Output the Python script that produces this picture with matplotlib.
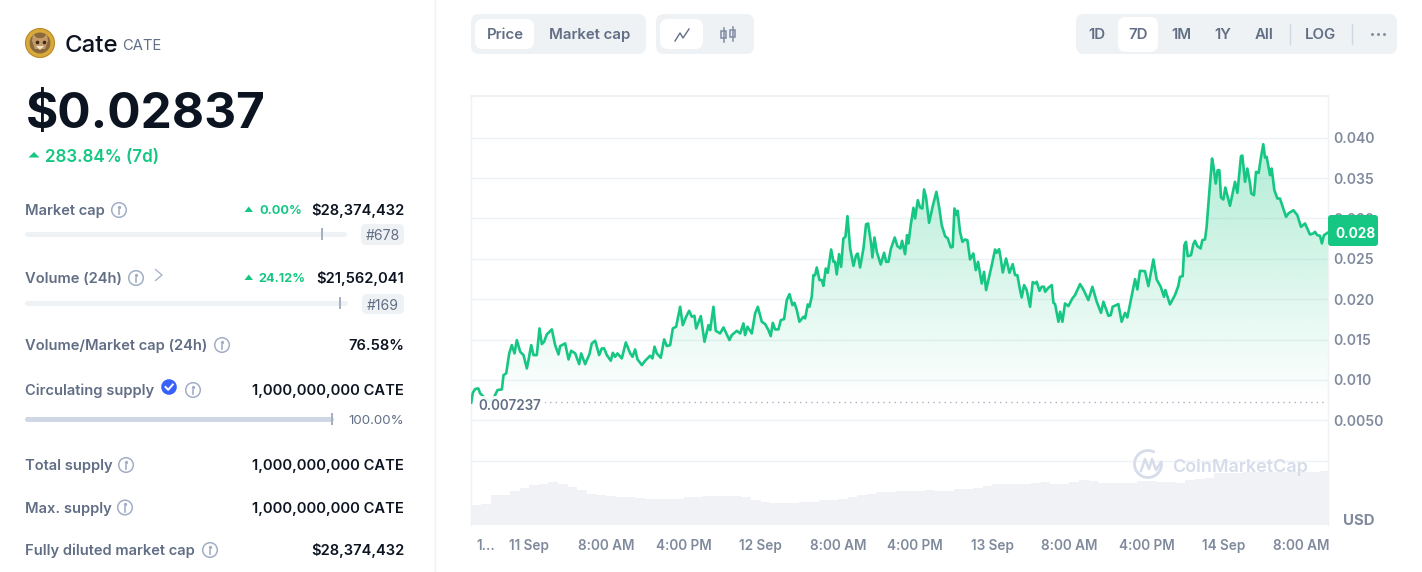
import numpy as np
import matplotlib
matplotlib.use('Agg')
import matplotlib.pyplot as plt
from matplotlib.patches import Circle, FancyBboxPatch, Polygon, Rectangle, Arc

plt.rcParams['font.family'] = ['Inter', 'DejaVu Sans']

# ##############################################################################
# price, hours since 11 Sep 00:00 / price in thousandths of a dollar
price_hours = [
    -6.01, -5.84, -5.60, -5.28, -5.08, -4.56, -4.04, -3.70, -3.28, -2.83, -2.66, -2.38, -2.07, -1.80, -1.52, -1.28,
    -0.93, -0.59, -0.24, -0.07, 0.21, 0.45, 0.79, 1.07, 1.31, 1.55, 1.83, 2.35, 2.69, 3.04, 3.21, 3.73,
    4.08, 4.35, 4.77, 5.18, 5.39, 5.80, 6.25, 6.49, 6.84, 7.25, 7.53, 7.77, 8.05, 8.46, 8.67, 8.91,
    9.15, 9.60, 10.02, 10.47, 10.71, 10.98, 11.23, 11.68, 12.02, 12.54, 12.78, 12.99, 13.23, 13.64, 13.99, 14.27,
    14.61, 14.89, 15.23, 15.65, 15.92, 16.27, 16.58, 16.86, 17.13, 17.31, 17.79, 18.17, 18.58, 18.76, 19.10, 19.34,
    19.79, 20.14, 20.76, 21.00, 21.52, 21.87, 22.21, 22.38, 22.63, 23.07, 23.42, 23.70, 24.11, 24.46, 24.80, 25.04,
    25.25, 25.49, 25.84, 26.08, 26.42, 26.70, 26.98, 27.29, 27.50, 27.74, 28.01, 28.43, 28.60, 28.88, 29.05, 29.29,
    29.46, 29.64, 29.81, 30.09, 30.33, 30.50, 30.74, 30.95, 31.30, 31.54, 31.71, 31.88, 32.12, 32.33, 32.57, 32.78,
    32.99, 33.27, 33.61, 33.89, 34.06, 34.30, 34.65, 34.92, 35.13, 35.44, 35.58, 35.79, 36.03, 36.44, 36.79, 37.00,
    37.24, 37.48, 37.89, 38.17, 38.48, 38.65, 38.96, 39.17, 39.31, 39.55, 39.83, 40.00, 40.28, 40.52, 40.76, 40.93,
    41.14, 41.45, 41.83, 42.21, 42.49, 42.76, 43.11, 43.39, 43.70, 43.90, 44.08, 44.32, 44.42, 44.66, 44.91, 45.18,
    45.42, 45.70, 46.04, 46.29, 46.53, 46.91, 47.15, 47.36, 47.60, 47.95, 48.29, 48.46, 48.71, 48.88, 49.09, 49.43,
    49.78, 50.12, 50.36, 50.60, 50.88, 51.05, 51.30, 51.57, 51.92, 52.19, 52.44, 52.61, 52.89, 53.13, 53.37, 53.48,
    53.82, 54.17, 54.34, 54.51, 54.86, 55.03, 55.27, 55.54, 55.89, 56.30, 56.58, 57.10, 57.44, 57.96, 58.38, 58.83,
    59.27, 59.52, 60.04, 60.28, 60.48, 61.07, 61.41, 61.76, 62.00, 62.80, 63.04, 63.31, 63.83, 64.18, 64.70, 65.04,
    65.46, 65.80, 65.94, 66.42, 66.94, 67.29, 67.46, 67.74, 67.91, 68.08, 68.26, 68.60, 68.84, 69.01, 69.26, 69.60,
    69.77, 70.05, 70.22, 70.46, 70.78, 70.91, 71.16, 71.36, 71.54, 71.71, 71.95, 72.16, 72.64, 73.16, 73.41, 73.78,
    73.92, 74.20, 74.44, 74.72, 74.85, 75.13, 75.34, 75.61, 75.86, 76.09, 76.27, 76.44, 76.79, 76.96, 77.24, 77.55,
    77.82, 78.45, 78.69, 79.21, 79.62, 80.00, 80.42, 80.93, 81.28, 81.45, 81.69, 81.97, 82.17, 82.38, 82.80]
price_milli = [
    7.24, 8.48, 8.93, 9.02, 8.40, 7.78, 7.36, 7.78, 8.81, 8.89, 10.67, 10.88, 13.36, 14.39, 13.36, 15.01,
    13.56, 13.15, 11.50, 12.53, 14.39, 13.15, 13.15, 16.46, 14.52, 14.81, 15.72, 16.34, 14.39, 13.23, 14.27, 14.60,
    12.61, 13.69, 13.36, 12.03, 13.36, 12.03, 13.28, 14.60, 14.93, 13.15, 13.98, 13.98, 13.15, 12.45, 13.44, 12.94,
    13.36, 12.74, 14.72, 13.36, 12.94, 13.85, 12.61, 11.91, 12.45, 13.07, 12.74, 14.19, 13.36, 12.82, 15.10, 14.27,
    14.39, 16.46, 16.67, 19.15, 16.87, 17.91, 18.65, 17.91, 18.03, 16.46, 17.99, 14.81, 16.87, 16.25, 19.15, 16.17,
    15.84, 16.58, 15.01, 15.63, 16.17, 15.84, 17.08, 15.63, 16.67, 15.84, 18.32, 19.15, 17.29, 17.00, 16.25, 15.51,
    17.16, 16.34, 16.34, 17.49, 17.62, 19.98, 20.72, 19.35, 19.64, 18.73, 17.29, 17.91, 17.70, 19.44, 19.15, 20.39,
    23.08, 23.08, 24.03, 22.46, 22.46, 21.75, 23.90, 23.37, 26.26, 24.73, 24.73, 23.16, 25.68, 24.11, 27.63, 27.83,
    30.40, 26.39, 24.23, 25.56, 25.76, 24.03, 26.39, 29.40, 29.49, 27.01, 25.27, 27.75, 25.97, 24.40, 25.85, 24.73,
    24.73, 26.30, 27.75, 26.67, 26.39, 27.34, 25.68, 28.04, 27.01, 29.28, 31.43, 30.11, 32.38, 31.47, 31.35, 33.71,
    32.71, 29.57, 31.64, 33.42, 31.55, 29.28, 27.92, 27.63, 26.51, 26.59, 31.35, 30.52, 31.06, 28.45, 27.21, 27.50,
    27.42, 25.02, 25.77, 23.70, 24.73, 22.04, 23.49, 21.22, 22.46, 24.32, 26.26, 25.85, 26.30, 25.14, 23.41, 25.14,
    23.37, 24.44, 23.08, 23.08, 21.22, 20.31, 21.84, 21.22, 19.15, 22.21, 22.04, 22.25, 21.13, 21.63, 21.63, 21.01,
    21.51, 21.84, 19.64, 19.48, 17.29, 18.53, 17.29, 19.56, 19.23, 20.18, 20.60, 21.96, 21.30, 19.98, 21.63, 19.77,
    18.40, 19.77, 18.03, 18.11, 19.15, 19.48, 17.29, 18.40, 17.82, 22.58, 21.30, 23.61, 23.57, 21.71, 25.02, 22.54,
    21.63, 20.39, 21.22, 19.44, 20.60, 21.75, 22.87, 22.95, 26.80, 27.21, 25.43, 25.56, 26.92, 27.34, 26.67, 26.39,
    27.42, 27.50, 29.07, 32.80, 37.55, 36.72, 34.45, 36.10, 36.10, 32.71, 32.47, 33.95, 31.68, 34.66, 33.29, 37.84,
    37.92, 34.66, 36.31, 34.45, 33.21, 33.00, 35.90, 35.77, 37.76, 39.33, 37.68, 37.76, 35.48, 36.31, 33.62, 32.59,
    32.59, 30.31, 30.73, 31.14, 30.52, 29.07, 29.49, 28.12, 28.25, 28.45, 28.04, 27.96, 27.01, 28.04, 28.37]

# hourly volume in millions of dollars, from -6h
volume_hours = list(range(-6, 84))
volume_musd = [
    7.9, 8.3, 11.9, 12.1, 13.5, 14.8, 15.9, 16.5, 17.1, 16.3, 15.2, 14.1, 12.4, 12.0, 11.6, 11.2,
    11.2, 10.8, 10.4, 10.3, 10.3, 10.3, 11.1, 11.2, 11.6, 11.7, 11.7, 11.7, 11.2, 10.1, 9.3, 8.8,
    8.8, 8.8, 9.1, 9.3, 9.9, 10.1, 10.4, 11.2, 12.0, 12.5, 13.1, 13.2, 13.5, 13.5, 13.5, 13.9,
    13.7, 13.6, 14.4, 14.5, 14.9, 15.7, 16.3, 16.5, 16.5, 16.4, 16.8, 17.1, 16.4, 16.4, 17.2, 18.1,
    17.7, 16.9, 16.8, 16.7, 16.8, 17.6, 17.6, 17.3, 17.2, 16.7, 17.9, 18.5, 18.7, 20.8, 20.9, 20.9,
    21.1, 21.1, 21.1, 21.1, 21.1, 21.1, 21.1, 21.3, 21.5, 21.56]

y_ticks = [0.040, 0.035, 0.030, 0.025, 0.020, 0.015, 0.010, 0.005]
y_labels = ['0.040', '0.035', '0.030', '0.025', '0.020', '0.015', '0.010', '0.0050']
x_ticks = [-4.46, 0, 8, 16, 24, 32, 40, 48, 56, 64, 72, 80]
x_labels = ['1...', '11 Sep', '8:00 AM', '4:00 PM', '12 Sep', '8:00 AM', '4:00 PM',
            '13 Sep', '8:00 AM', '4:00 PM', '14 Sep', '8:00 AM']
start_price = 0.007237

# name, info icon x, text y, change, value
stat_rows = [('Market cap', 119, 209.5, '0.00%', '$28,374,432'),
             ('Volume (24h)', 136, 277.5, '24.12%', '$21,562,041'),
             ('Volume/Market cap (24h)', 222, 344.5, None, '76.58%'),
             ('Circulating supply', 193, 389.5, None, '1,000,000,000 CATE'),
             ('Total supply', 126, 464.5, None, '1,000,000,000 CATE'),
             ('Max. supply', 125, 507, None, '1,000,000,000 CATE'),
             ('Fully diluted market cap', 210, 549.5, None, '$28,374,432')]

GREEN = '#16c784'
DARK = '#0d1421'
GREY = '#616e85'
TICK = '#808a9d'
LIGHT = '#eff2f5'
ICON = '#a1aec6'

W, H = 1422, 572
# ##############################################################################

def px(size):
    return size * 0.72

def chart_rect(left, top, right, bottom):
    return [left / W, 1 - bottom / H, (right - left) / W, (bottom - top) / H]

def box(ax, x0, y0, x1, y1, color, radius=8, zorder=2):
    ax.add_patch(FancyBboxPatch((x0 + radius, y0 + radius), x1 - x0 - 2 * radius, y1 - y0 - 2 * radius,
                                boxstyle=f'round,pad={radius},rounding_size={radius}',
                                fc=color, ec='none', zorder=zorder))

def label(ax, x, y, s, size=14.7, color=GREY, weight='medium', ha='left', **kw):
    ax.text(x, y, s, fontsize=px(size), color=color, fontweight=weight, ha=ha, va='center_baseline', **kw)

def info_icon(ax, x, y):
    ax.add_patch(Circle((x, y), 7.3, fc='none', ec=ICON, lw=1.1))
    ax.plot([x, x], [y - 0.5, y + 4], color=ICON, lw=1.2)
    ax.plot([x], [y - 3.3], 'o', color=ICON, ms=1.4)

def up_triangle(ax, x0, x1, y):
    ax.add_patch(Polygon([(x0, y + 2.5), (x1, y + 2.5), ((x0 + x1) / 2, y - 3)], fc=GREEN, ec='none'))

def slider(ax, x0, x1, y, color, mark):
    ax.plot([x0 + 2, x1 - 2], [y, y], color=color, lw=px(5), solid_capstyle='round', zorder=2)
    ax.plot([mark, mark], [y - 6, y + 6], color='#a6b0c3', lw=px(2), solid_capstyle='butt', zorder=3)

# price chart axes and volume axes share one rectangle
fig = plt.figure(figsize=(W / 100, H / 100), dpi=100, facecolor='white')
rect = chart_rect(471, 96, 1328, 525)

axv = fig.add_axes(rect, zorder=1)
axv.bar(volume_hours, volume_musd, width=1.0, color='#f0f2f5', align='edge')
axv.set_xlim(-6.03, 82.8)
axv.set_ylim(0, 171.6)
axv.axis('off')

ax = fig.add_axes(rect, zorder=2)
ax.patch.set_alpha(0)
# small correction, the readings were taken against a slightly coarser y scale
prices = (np.array(price_milli) * 0.997 - 0.03) / 1000

# gradient under the line, fading out at the opening price
grad = np.zeros((256, 2, 4))
grad[:, :, :3] = matplotlib.colors.to_rgb(GREEN)
grad[:, :, 3] = np.linspace(0.34, 0, 256)[:, None]
im = ax.imshow(grad, extent=(-6.03, 82.8, start_price, 0.040), origin='upper', aspect='auto', zorder=2)
verts = list(zip(price_hours, prices)) + [(price_hours[-1], start_price), (price_hours[0], start_price)]
im.set_clip_path(Polygon(verts, transform=ax.transData))

ax.plot(price_hours, prices, color=GREEN, lw=1.9, solid_joinstyle='round', zorder=3)
ax.plot([1.5, 82.8], [start_price, start_price], color='#a6b0c3', lw=1.0, ls=(0, (1, 3)), zorder=2.5)

ax.set_xlim(-6.03, 82.8)
ax.set_ylim(-0.00795, 0.04515)
ax.yaxis.tick_right()
ax.set_yticks(y_ticks + [0.0])
ax.set_yticklabels(y_labels + [''])
ax.set_xticks(x_ticks)
ax.set_xticklabels(x_labels)
ax.tick_params(axis='both', length=0, labelsize=px(14), labelcolor=TICK)
ax.tick_params(axis='x', pad=10, labelsize=px(13.6))
ax.tick_params(axis='y', pad=4)
for t in ax.get_xticklabels() + ax.get_yticklabels():
    t.set_fontweight('semibold')
ax.grid(axis='y', color=LIGHT, lw=1.0, zorder=0)
ax.set_axisbelow(True)
for side in ['left', 'right']:
    ax.spines[side].set_color(LIGHT)
    ax.spines[side].set_linewidth(1.0)
ax.spines['top'].set_color(LIGHT)
ax.spines['top'].set_linewidth(1.6)
ax.spines['bottom'].set_visible(False)

# everything else is page furniture, drawn in screen pixels
ui = fig.add_axes([0, 0, 1, 1], zorder=3)
ui.set_xlim(0, W)
ui.set_ylim(H, 0)
ui.axis('off')
ui.patch.set_alpha(0)

ui.plot([434.5, 434.5], [0, H], color=LIGHT, lw=1.0)

# coin logo
ui.add_patch(Circle((40, 43), 14.5, fc='#d9a93a', ec='#b98a26', lw=0.8))
ui.add_patch(Circle((40, 43), 10.5, fc='#8a6a3c', ec='none'))
ui.add_patch(Polygon([(32, 41), (33, 34), (37, 38), (43, 38), (47, 34), (48, 41), (45, 49), (35, 49)],
                     fc='#c39a68', ec='none'))
ui.add_patch(Polygon([(36, 46), (44, 46), (40, 50)], fc='#efe2c8', ec='none'))
ui.plot([36.5, 43.5], [42, 42], 'o', color='#3b2a18', ms=1.6)

label(ui, 65, 43, 'Cate', size=24, color=DARK, weight='medium')
label(ui, 122, 45, 'CATE', size=14.7, color=GREY, weight='normal')
label(ui, 26, 110, '$0.02837', size=49.5, color=DARK, weight='bold')
up_triangle(ui, 28.5, 39.5, 155)
label(ui, 45, 155.5, '283.84% (7d)', size=17, color=GREEN, weight='semibold')

for name, info_x, y, change, value in stat_rows:
    label(ui, 25, y, name, weight='semibold')
    info_icon(ui, info_x, y + 0.5)
    label(ui, 404, y, value, color=DARK, ha='right', weight='semibold')
    if change:
        x_text = 259 if change == '0.00%' else 258
        up_triangle(ui, 244.5, 253, y)
        label(ui, x_text, y, change, size=12.6, color=GREEN, weight='bold')

ui.plot([155.5, 162, 155.5], [269.5, 275, 280.5], color=ICON, lw=0.9)

slider(ui, 25, 346, 234, LIGHT, 322)
box(ui, 361, 224, 404, 245, LIGHT, radius=5)
label(ui, 382.5, 235, '#678', size=14, ha='center', weight='normal', zorder=5)
slider(ui, 25, 347, 303, LIGHT, 340)
box(ui, 362, 294, 404, 314, LIGHT, radius=5)
label(ui, 383, 304, '#169', size=14, ha='center', weight='normal', zorder=5)
slider(ui, 25, 333, 419, '#cfd6e4', 332)
label(ui, 404, 420, '100.00%', size=13.3, ha='right', weight='normal')

# verified tick
ui.add_patch(Circle((169, 387), 7.8, fc='#3861fb', ec='none'))
ui.plot([165.5, 168.2, 172.8], [387, 389.8, 384.5], color='white', lw=1.4)

# top left toggles
box(ui, 471, 14, 646, 54, LIGHT)
box(ui, 475, 19, 534, 49, 'white')
label(ui, 505, 33.5, 'Price', size=15, ha='center', zorder=5, weight='semibold')
label(ui, 590, 33.5, 'Market cap', size=15, ha='center', zorder=5, weight='semibold')
box(ui, 656, 14, 754, 54, LIGHT)
box(ui, 660, 19, 703, 49, 'white')
ui.plot([675, 680, 683, 689], [41, 33, 38, 29], color=GREY, lw=1.0, zorder=5)
for cx, y0, y1 in [(723.5, 31, 38), (732.5, 30, 37)]:
    ui.add_patch(Rectangle((cx - 2.5, y0), 5, y1 - y0, fc='none', ec='#7f8ca3', lw=1.1, zorder=5))
    ui.plot([cx, cx], [y0 - 3, y1 + 4], color='#7f8ca3', lw=1.1, zorder=4)

# range selector
box(ui, 1076, 14, 1397, 54, LIGHT)
box(ui, 1118, 17, 1158, 52, 'white')
for x, s in [(1097, '1D'), (1138, '7D'), (1181, '1M'), (1223, '1Y'), (1264, 'All'), (1320, 'LOG')]:
    label(ui, x, 33.5, s, size=15, ha='center', zorder=5, weight='semibold')
for x in [1290, 1352]:
    ui.plot([x, x], [24, 44], color='#cfd6e4', lw=1.0, zorder=5)
ui.plot([1372, 1378, 1384], [34, 34, 34], 'o', color=TICK, ms=1.1, zorder=5)

# opening price tag and last price badge
ui.add_patch(Rectangle((475, 396), 70, 19, fc='white', ec='none', alpha=0.9, zorder=1))
label(ui, 478.5, 404.5, '0.007237', size=13.5, weight='semibold', zorder=5)
box(ui, 1328, 215, 1378, 246, GREEN, radius=3)
label(ui, 1335, 232, '0.028', size=13.5, color='white', weight='bold', zorder=5)
label(ui, 1343, 519.5, 'USD', size=15, color=TICK, weight='bold')

# watermark
WM = '#d6dcea'
ui.add_patch(Arc((1148, 464), 27, 27, theta1=-10, theta2=300, ec=WM, lw=2.0))
ui.plot([1141, 1145, 1149, 1152, 1156, 1161], [471, 459, 469, 459, 470, 462], color=WM, lw=1.8)
label(ui, 1172, 465, 'CoinMarketCap', size=18, color=WM, weight='semibold')

fig.savefig('out.png', dpi=100)
